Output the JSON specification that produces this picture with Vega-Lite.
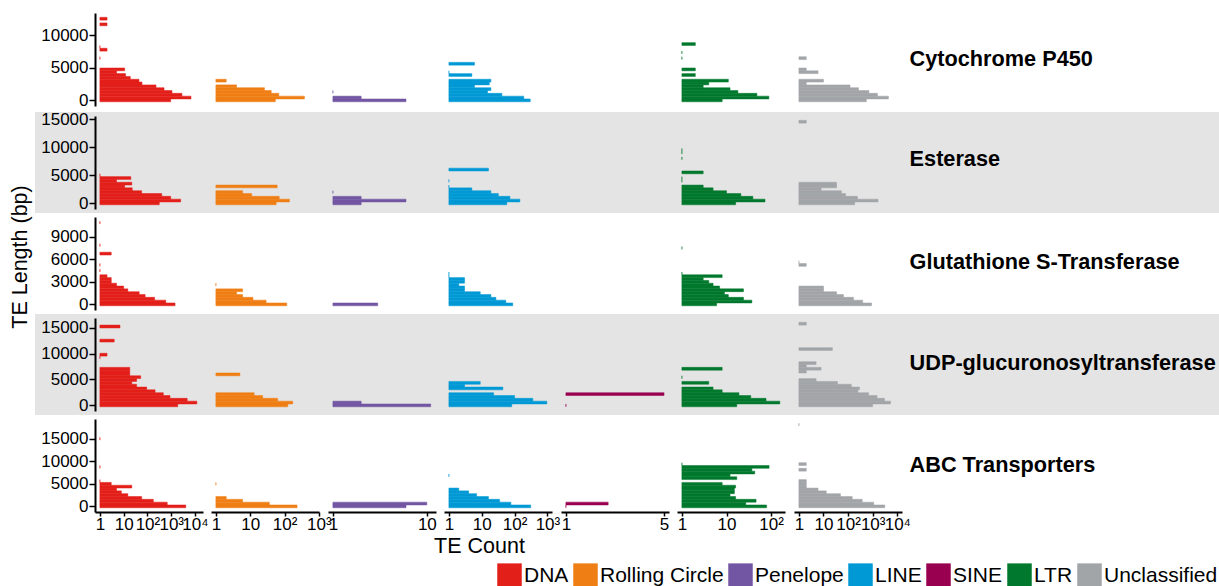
{
"$schema":"https://vega.github.io/schema/vega-lite/v6.json",
"background":"white",
"padding":{"left":0,"top":9,"right":0,"bottom":0},
"spacing":0,
"config":{"view":{"stroke":null},"font":"Liberation Sans","concat":{"spacing":0},
"axis":{"domainColor":"black","domainWidth":2,"tickColor":"black","tickWidth":1.5,"tickSize":6,"labelColor":"black","labelFontSize":17,"labelPadding":1,"labelFont":"Liberation Sans","titleFont":"Liberation Sans","titleFontSize":21.5,"titleFontWeight":"normal","titleColor":"black","grid":false},
"legend":{"orient":"none","legendX":497,"legendY":554,"direction":"horizontal","symbolType":"square","symbolSize":600,"symbolStrokeWidth":0,"symbolOpacity":1,"labelFontSize":21,"labelFont":"Liberation Sans","labelColor":"black","labelOffset":2,"columnPadding":4,"labelLimit":0,"padding":0}},
"data":{"values":[
{"g":"P","c":"DNA","lo":-217,"hi":217,"n":950},{"g":"P","c":"DNA","lo":217,"hi":650,"n":6800},{"g":"P","c":"DNA","lo":650,"hi":1083,"n":2830},{"g":"P","c":"DNA","lo":1083,"hi":1516,"n":1080},{"g":"P","c":"DNA","lo":1516,"hi":1949,"n":500},{"g":"P","c":"DNA","lo":1949,"hi":2382,"n":230},{"g":"P","c":"DNA","lo":2382,"hi":2815,"n":59},{"g":"P","c":"DNA","lo":2815,"hi":3248,"n":44},{"g":"P","c":"DNA","lo":3248,"hi":3681,"n":19},{"g":"P","c":"DNA","lo":3681,"hi":4114,"n":12},{"g":"P","c":"DNA","lo":4114,"hi":4547,"n":5},{"g":"P","c":"DNA","lo":4547,"hi":4980,"n":11},{"g":"P","c":"DNA","lo":6279,"hi":6712,"n":1},{"g":"P","c":"DNA","lo":7578,"hi":8011,"n":2},{"g":"P","c":"DNA","lo":8011,"hi":8444,"n":1},{"g":"P","c":"DNA","lo":11475,"hi":11908,"n":2},{"g":"P","c":"DNA","lo":12341,"hi":12774,"n":2},
{"g":"P","c":"Rolling Circle","lo":-217,"hi":217,"n":54},{"g":"P","c":"Rolling Circle","lo":217,"hi":650,"n":380},{"g":"P","c":"Rolling Circle","lo":650,"hi":1083,"n":68},{"g":"P","c":"Rolling Circle","lo":1083,"hi":1516,"n":41},{"g":"P","c":"Rolling Circle","lo":1516,"hi":1949,"n":26},{"g":"P","c":"Rolling Circle","lo":1949,"hi":2382,"n":4},{"g":"P","c":"Rolling Circle","lo":2815,"hi":3248,"n":2},
{"g":"P","c":"Penelope","lo":-217,"hi":217,"n":6},{"g":"P","c":"Penelope","lo":217,"hi":650,"n":2},{"g":"P","c":"Penelope","lo":1083,"hi":1516,"n":1},
{"g":"P","c":"LINE","lo":-217,"hi":217,"n":300},{"g":"P","c":"LINE","lo":217,"hi":650,"n":190},{"g":"P","c":"LINE","lo":650,"hi":1083,"n":41},{"g":"P","c":"LINE","lo":1083,"hi":1516,"n":15},{"g":"P","c":"LINE","lo":1516,"hi":1949,"n":19},{"g":"P","c":"LINE","lo":1949,"hi":2382,"n":6},{"g":"P","c":"LINE","lo":2382,"hi":2815,"n":17},{"g":"P","c":"LINE","lo":2815,"hi":3248,"n":19},{"g":"P","c":"LINE","lo":3681,"hi":4114,"n":5},{"g":"P","c":"LINE","lo":4114,"hi":4547,"n":1},{"g":"P","c":"LINE","lo":5413,"hi":5846,"n":6},
{"g":"P","c":"LTR","lo":-217,"hi":217,"n":8},{"g":"P","c":"LTR","lo":217,"hi":650,"n":89},{"g":"P","c":"LTR","lo":650,"hi":1083,"n":48},{"g":"P","c":"LTR","lo":1083,"hi":1516,"n":18},{"g":"P","c":"LTR","lo":1516,"hi":1949,"n":12},{"g":"P","c":"LTR","lo":1949,"hi":2382,"n":3},{"g":"P","c":"LTR","lo":2382,"hi":2815,"n":4},{"g":"P","c":"LTR","lo":2815,"hi":3248,"n":11},{"g":"P","c":"LTR","lo":3681,"hi":4114,"n":2},{"g":"P","c":"LTR","lo":4547,"hi":4980,"n":2},{"g":"P","c":"LTR","lo":6279,"hi":6712,"n":1},{"g":"P","c":"LTR","lo":7145,"hi":7578,"n":1},{"g":"P","c":"LTR","lo":8444,"hi":8877,"n":2},
{"g":"P","c":"Unclassified","lo":-217,"hi":217,"n":550},{"g":"P","c":"Unclassified","lo":217,"hi":650,"n":4360},{"g":"P","c":"Unclassified","lo":650,"hi":1083,"n":1560},{"g":"P","c":"Unclassified","lo":1083,"hi":1516,"n":700},{"g":"P","c":"Unclassified","lo":1516,"hi":1949,"n":265},{"g":"P","c":"Unclassified","lo":1949,"hi":2382,"n":120},{"g":"P","c":"Unclassified","lo":2382,"hi":2815,"n":2},{"g":"P","c":"Unclassified","lo":2815,"hi":3248,"n":10},{"g":"P","c":"Unclassified","lo":4114,"hi":4547,"n":6},{"g":"P","c":"Unclassified","lo":4547,"hi":4980,"n":2},{"g":"P","c":"Unclassified","lo":6279,"hi":6712,"n":2},
{"g":"E","c":"DNA","lo":-252,"hi":252,"n":315},{"g":"E","c":"DNA","lo":252,"hi":755,"n":2500},{"g":"E","c":"DNA","lo":755,"hi":1258,"n":950},{"g":"E","c":"DNA","lo":1258,"hi":1761,"n":400},{"g":"E","c":"DNA","lo":1761,"hi":2264,"n":57},{"g":"E","c":"DNA","lo":2264,"hi":2767,"n":23},{"g":"E","c":"DNA","lo":2767,"hi":3270,"n":11},{"g":"E","c":"DNA","lo":3270,"hi":3773,"n":22},{"g":"E","c":"DNA","lo":3773,"hi":4276,"n":5},{"g":"E","c":"DNA","lo":4276,"hi":4779,"n":20},{"g":"E","c":"DNA","lo":4779,"hi":5282,"n":1},
{"g":"E","c":"Rolling Circle","lo":-252,"hi":252,"n":57},{"g":"E","c":"Rolling Circle","lo":252,"hi":755,"n":139},{"g":"E","c":"Rolling Circle","lo":755,"hi":1258,"n":70},{"g":"E","c":"Rolling Circle","lo":1258,"hi":1761,"n":11},{"g":"E","c":"Rolling Circle","lo":1761,"hi":2264,"n":6},{"g":"E","c":"Rolling Circle","lo":2767,"hi":3270,"n":61},
{"g":"E","c":"Penelope","lo":-252,"hi":252,"n":2},{"g":"E","c":"Penelope","lo":252,"hi":755,"n":6},{"g":"E","c":"Penelope","lo":755,"hi":1258,"n":2},{"g":"E","c":"Penelope","lo":1761,"hi":2264,"n":1},
{"g":"E","c":"LINE","lo":-252,"hi":252,"n":58},{"g":"E","c":"LINE","lo":252,"hi":755,"n":145},{"g":"E","c":"LINE","lo":755,"hi":1258,"n":72},{"g":"E","c":"LINE","lo":1258,"hi":1761,"n":32},{"g":"E","c":"LINE","lo":1761,"hi":2264,"n":19},{"g":"E","c":"LINE","lo":2264,"hi":2767,"n":5},{"g":"E","c":"LINE","lo":2767,"hi":3270,"n":1},{"g":"E","c":"LINE","lo":3773,"hi":4276,"n":1},{"g":"E","c":"LINE","lo":5785,"hi":6288,"n":16},
{"g":"E","c":"LTR","lo":-252,"hi":252,"n":16},{"g":"E","c":"LTR","lo":252,"hi":755,"n":73},{"g":"E","c":"LTR","lo":755,"hi":1258,"n":39},{"g":"E","c":"LTR","lo":1258,"hi":1761,"n":21},{"g":"E","c":"LTR","lo":1761,"hi":2264,"n":10},{"g":"E","c":"LTR","lo":2264,"hi":2767,"n":5},{"g":"E","c":"LTR","lo":2767,"hi":3270,"n":3},{"g":"E","c":"LTR","lo":3773,"hi":4276,"n":1},{"g":"E","c":"LTR","lo":4276,"hi":4779,"n":1},{"g":"E","c":"LTR","lo":5282,"hi":5785,"n":3},{"g":"E","c":"LTR","lo":7797,"hi":8300,"n":1},{"g":"E","c":"LTR","lo":8803,"hi":9306,"n":1},{"g":"E","c":"LTR","lo":9306,"hi":9809,"n":1},
{"g":"E","c":"Unclassified","lo":-252,"hi":252,"n":185},{"g":"E","c":"Unclassified","lo":252,"hi":755,"n":1650},{"g":"E","c":"Unclassified","lo":755,"hi":1258,"n":240},{"g":"E","c":"Unclassified","lo":1258,"hi":1761,"n":79},{"g":"E","c":"Unclassified","lo":1761,"hi":2264,"n":53},{"g":"E","c":"Unclassified","lo":2264,"hi":2767,"n":8},{"g":"E","c":"Unclassified","lo":2767,"hi":3270,"n":34},{"g":"E","c":"Unclassified","lo":3270,"hi":3773,"n":34},{"g":"E","c":"Unclassified","lo":14335,"hi":14838,"n":2},
{"g":"G","c":"DNA","lo":-188,"hi":188,"n":1450},{"g":"G","c":"DNA","lo":188,"hi":564,"n":590},{"g":"G","c":"DNA","lo":564,"hi":940,"n":200},{"g":"G","c":"DNA","lo":940,"hi":1316,"n":80},{"g":"G","c":"DNA","lo":1316,"hi":1692,"n":45},{"g":"G","c":"DNA","lo":1692,"hi":2068,"n":15},{"g":"G","c":"DNA","lo":2068,"hi":2444,"n":10},{"g":"G","c":"DNA","lo":2444,"hi":2820,"n":5},{"g":"G","c":"DNA","lo":2820,"hi":3196,"n":3},{"g":"G","c":"DNA","lo":3196,"hi":3572,"n":3},{"g":"G","c":"DNA","lo":3572,"hi":3948,"n":2},{"g":"G","c":"DNA","lo":4324,"hi":4700,"n":1},{"g":"G","c":"DNA","lo":5076,"hi":5452,"n":1},{"g":"G","c":"DNA","lo":6580,"hi":6956,"n":3},{"g":"G","c":"DNA","lo":7708,"hi":8084,"n":1},{"g":"G","c":"DNA","lo":10716,"hi":11092,"n":1},
{"g":"G","c":"Rolling Circle","lo":-188,"hi":188,"n":116},{"g":"G","c":"Rolling Circle","lo":188,"hi":564,"n":29},{"g":"G","c":"Rolling Circle","lo":564,"hi":940,"n":12},{"g":"G","c":"Rolling Circle","lo":940,"hi":1316,"n":6},{"g":"G","c":"Rolling Circle","lo":1316,"hi":1692,"n":4},{"g":"G","c":"Rolling Circle","lo":1692,"hi":2068,"n":6},{"g":"G","c":"Rolling Circle","lo":2444,"hi":2820,"n":1},
{"g":"G","c":"Penelope","lo":-188,"hi":188,"n":3},
{"g":"G","c":"LINE","lo":-188,"hi":188,"n":88},{"g":"G","c":"LINE","lo":188,"hi":564,"n":54},{"g":"G","c":"LINE","lo":564,"hi":940,"n":27},{"g":"G","c":"LINE","lo":940,"hi":1316,"n":19},{"g":"G","c":"LINE","lo":1316,"hi":1692,"n":9},{"g":"G","c":"LINE","lo":1692,"hi":2068,"n":3},{"g":"G","c":"LINE","lo":2068,"hi":2444,"n":3},{"g":"G","c":"LINE","lo":2444,"hi":2820,"n":2},{"g":"G","c":"LINE","lo":2820,"hi":3196,"n":3},{"g":"G","c":"LINE","lo":3196,"hi":3572,"n":3},{"g":"G","c":"LINE","lo":3572,"hi":3948,"n":1},{"g":"G","c":"LINE","lo":3948,"hi":4324,"n":1},
{"g":"G","c":"LTR","lo":-188,"hi":188,"n":6},{"g":"G","c":"LTR","lo":188,"hi":564,"n":37},{"g":"G","c":"LTR","lo":564,"hi":940,"n":24},{"g":"G","c":"LTR","lo":940,"hi":1316,"n":11},{"g":"G","c":"LTR","lo":1316,"hi":1692,"n":9},{"g":"G","c":"LTR","lo":1692,"hi":2068,"n":24},{"g":"G","c":"LTR","lo":2068,"hi":2444,"n":7},{"g":"G","c":"LTR","lo":2444,"hi":2820,"n":5},{"g":"G","c":"LTR","lo":2820,"hi":3196,"n":4},{"g":"G","c":"LTR","lo":3196,"hi":3572,"n":3},{"g":"G","c":"LTR","lo":3572,"hi":3948,"n":8},{"g":"G","c":"LTR","lo":3948,"hi":4324,"n":1},{"g":"G","c":"LTR","lo":7332,"hi":7708,"n":1},
{"g":"G","c":"Unclassified","lo":-188,"hi":188,"n":900},{"g":"G","c":"Unclassified","lo":188,"hi":564,"n":390},{"g":"G","c":"Unclassified","lo":564,"hi":940,"n":165},{"g":"G","c":"Unclassified","lo":940,"hi":1316,"n":65},{"g":"G","c":"Unclassified","lo":1316,"hi":1692,"n":34},{"g":"G","c":"Unclassified","lo":1692,"hi":2068,"n":10},{"g":"G","c":"Unclassified","lo":2068,"hi":2444,"n":10},{"g":"G","c":"Unclassified","lo":5076,"hi":5452,"n":2},{"g":"G","c":"Unclassified","lo":5452,"hi":5828,"n":1},
{"g":"U","c":"DNA","lo":-272,"hi":272,"n":1880},{"g":"U","c":"DNA","lo":272,"hi":815,"n":12000},{"g":"U","c":"DNA","lo":815,"hi":1358,"n":4700},{"g":"U","c":"DNA","lo":1358,"hi":1901,"n":890},{"g":"U","c":"DNA","lo":1901,"hi":2444,"n":465},{"g":"U","c":"DNA","lo":2444,"hi":2987,"n":210},{"g":"U","c":"DNA","lo":2987,"hi":3530,"n":93},{"g":"U","c":"DNA","lo":3530,"hi":4073,"n":35},{"g":"U","c":"DNA","lo":4073,"hi":4616,"n":22},{"g":"U","c":"DNA","lo":4616,"hi":5159,"n":35},{"g":"U","c":"DNA","lo":5159,"hi":5702,"n":52},{"g":"U","c":"DNA","lo":5702,"hi":6245,"n":18},{"g":"U","c":"DNA","lo":6245,"hi":6788,"n":18},{"g":"U","c":"DNA","lo":6788,"hi":7331,"n":18},{"g":"U","c":"DNA","lo":8960,"hi":9503,"n":1},{"g":"U","c":"DNA","lo":9503,"hi":10046,"n":2},{"g":"U","c":"DNA","lo":12218,"hi":12761,"n":4},{"g":"U","c":"DNA","lo":14933,"hi":15476,"n":7},
{"g":"U","c":"Rolling Circle","lo":-272,"hi":272,"n":124},{"g":"U","c":"Rolling Circle","lo":272,"hi":815,"n":173},{"g":"U","c":"Rolling Circle","lo":815,"hi":1358,"n":63},{"g":"U","c":"Rolling Circle","lo":1358,"hi":1901,"n":23},{"g":"U","c":"Rolling Circle","lo":1901,"hi":2444,"n":13},{"g":"U","c":"Rolling Circle","lo":5702,"hi":6245,"n":5},
{"g":"U","c":"Penelope","lo":-272,"hi":272,"n":11},{"g":"U","c":"Penelope","lo":272,"hi":815,"n":2},
{"g":"U","c":"LINE","lo":-272,"hi":272,"n":82},{"g":"U","c":"LINE","lo":272,"hi":815,"n":960},{"g":"U","c":"LINE","lo":815,"hi":1358,"n":360},{"g":"U","c":"LINE","lo":1358,"hi":1901,"n":100},{"g":"U","c":"LINE","lo":1901,"hi":2444,"n":23},{"g":"U","c":"LINE","lo":2987,"hi":3530,"n":44},{"g":"U","c":"LINE","lo":3530,"hi":4073,"n":3},{"g":"U","c":"LINE","lo":4073,"hi":4616,"n":9},
{"g":"U","c":"SINE","lo":-272,"hi":272,"n":1},{"g":"U","c":"SINE","lo":1901,"hi":2444,"n":5},
{"g":"U","c":"LTR","lo":-272,"hi":272,"n":17},{"g":"U","c":"LTR","lo":272,"hi":815,"n":157},{"g":"U","c":"LTR","lo":815,"hi":1358,"n":77},{"g":"U","c":"LTR","lo":1358,"hi":1901,"n":35},{"g":"U","c":"LTR","lo":1901,"hi":2444,"n":19},{"g":"U","c":"LTR","lo":2444,"hi":2987,"n":8},{"g":"U","c":"LTR","lo":2987,"hi":3530,"n":5},{"g":"U","c":"LTR","lo":4073,"hi":4616,"n":4},{"g":"U","c":"LTR","lo":5159,"hi":5702,"n":1},{"g":"U","c":"LTR","lo":6788,"hi":7331,"n":8},
{"g":"U","c":"Unclassified","lo":-272,"hi":272,"n":990},{"g":"U","c":"Unclassified","lo":272,"hi":815,"n":5300},{"g":"U","c":"Unclassified","lo":815,"hi":1358,"n":3000},{"g":"U","c":"Unclassified","lo":1358,"hi":1901,"n":1500},{"g":"U","c":"Unclassified","lo":1901,"hi":2444,"n":680},{"g":"U","c":"Unclassified","lo":2444,"hi":2987,"n":250},{"g":"U","c":"Unclassified","lo":2987,"hi":3530,"n":290},{"g":"U","c":"Unclassified","lo":3530,"hi":4073,"n":135},{"g":"U","c":"Unclassified","lo":4073,"hi":4616,"n":37},{"g":"U","c":"Unclassified","lo":4616,"hi":5159,"n":5},{"g":"U","c":"Unclassified","lo":6245,"hi":6788,"n":2},{"g":"U","c":"Unclassified","lo":6788,"hi":7331,"n":8},{"g":"U","c":"Unclassified","lo":7331,"hi":7874,"n":2},{"g":"U","c":"Unclassified","lo":7874,"hi":8417,"n":5},{"g":"U","c":"Unclassified","lo":10589,"hi":11132,"n":23},{"g":"U","c":"Unclassified","lo":15476,"hi":16019,"n":2},
{"g":"A","c":"DNA","lo":-312,"hi":312,"n":4100},{"g":"A","c":"DNA","lo":312,"hi":936,"n":680},{"g":"A","c":"DNA","lo":936,"hi":1560,"n":177},{"g":"A","c":"DNA","lo":1560,"hi":2184,"n":57},{"g":"A","c":"DNA","lo":2184,"hi":2808,"n":15},{"g":"A","c":"DNA","lo":2808,"hi":3432,"n":8},{"g":"A","c":"DNA","lo":3432,"hi":4056,"n":5},{"g":"A","c":"DNA","lo":4056,"hi":4680,"n":22},{"g":"A","c":"DNA","lo":4680,"hi":5304,"n":3},{"g":"A","c":"DNA","lo":5304,"hi":5928,"n":1},{"g":"A","c":"DNA","lo":8424,"hi":9048,"n":1},{"g":"A","c":"DNA","lo":14664,"hi":15288,"n":1},
{"g":"A","c":"Rolling Circle","lo":-312,"hi":312,"n":232},{"g":"A","c":"Rolling Circle","lo":312,"hi":936,"n":36},{"g":"A","c":"Rolling Circle","lo":936,"hi":1560,"n":6},{"g":"A","c":"Rolling Circle","lo":1560,"hi":2184,"n":2},{"g":"A","c":"Rolling Circle","lo":4680,"hi":5304,"n":1},
{"g":"A","c":"Penelope","lo":-312,"hi":312,"n":6},{"g":"A","c":"Penelope","lo":312,"hi":936,"n":10},
{"g":"A","c":"LINE","lo":-312,"hi":312,"n":310},{"g":"A","c":"LINE","lo":312,"hi":936,"n":77},{"g":"A","c":"LINE","lo":936,"hi":1560,"n":35},{"g":"A","c":"LINE","lo":1560,"hi":2184,"n":16},{"g":"A","c":"LINE","lo":2184,"hi":2808,"n":7},{"g":"A","c":"LINE","lo":2808,"hi":3432,"n":4},{"g":"A","c":"LINE","lo":3432,"hi":4056,"n":2},{"g":"A","c":"LINE","lo":6552,"hi":7176,"n":1},
{"g":"A","c":"SINE","lo":-312,"hi":312,"n":1},{"g":"A","c":"SINE","lo":312,"hi":936,"n":2},
{"g":"A","c":"LTR","lo":-312,"hi":312,"n":79},{"g":"A","c":"LTR","lo":312,"hi":936,"n":27},{"g":"A","c":"LTR","lo":936,"hi":1560,"n":46},{"g":"A","c":"LTR","lo":1560,"hi":2184,"n":16},{"g":"A","c":"LTR","lo":2184,"hi":2808,"n":12},{"g":"A","c":"LTR","lo":2808,"hi":3432,"n":15},{"g":"A","c":"LTR","lo":3432,"hi":4056,"n":15},{"g":"A","c":"LTR","lo":4056,"hi":4680,"n":16},{"g":"A","c":"LTR","lo":4680,"hi":5304,"n":8},{"g":"A","c":"LTR","lo":5928,"hi":6552,"n":17},{"g":"A","c":"LTR","lo":6552,"hi":7176,"n":12},{"g":"A","c":"LTR","lo":7176,"hi":7800,"n":43},{"g":"A","c":"LTR","lo":7800,"hi":8424,"n":37},{"g":"A","c":"LTR","lo":8424,"hi":9048,"n":90},{"g":"A","c":"LTR","lo":9048,"hi":9672,"n":1},
{"g":"A","c":"Unclassified","lo":-312,"hi":312,"n":3100},{"g":"A","c":"Unclassified","lo":312,"hi":936,"n":1100},{"g":"A","c":"Unclassified","lo":936,"hi":1560,"n":375},{"g":"A","c":"Unclassified","lo":1560,"hi":2184,"n":147},{"g":"A","c":"Unclassified","lo":2184,"hi":2808,"n":49},{"g":"A","c":"Unclassified","lo":2808,"hi":3432,"n":13},{"g":"A","c":"Unclassified","lo":3432,"hi":4056,"n":6},{"g":"A","c":"Unclassified","lo":4056,"hi":4680,"n":2},{"g":"A","c":"Unclassified","lo":4680,"hi":5304,"n":2},{"g":"A","c":"Unclassified","lo":5304,"hi":5928,"n":2},{"g":"A","c":"Unclassified","lo":7800,"hi":8424,"n":2},{"g":"A","c":"Unclassified","lo":9048,"hi":9672,"n":2},{"g":"A","c":"Unclassified","lo":17784,"hi":18408,"n":1}
]},
"hconcat":[
{"width":35,"height":501,"data":{"values":[{"t":"TE Length (bp)"}]},"mark":{"type":"text","angle":270,"align":"center","baseline":"middle","fontSize":21.5,"font":"Liberation Sans","color":"black"},"encoding":{"text":{"field":"t"},"x":{"value":21},"y":{"value":248}}},
{"spacing":0,"vconcat":[
{"spacing":0,"bounds":"flush","hconcat":[
{"width":176,"height":101,"transform":[{"filter":"datum.g=='P'&&datum.c=='DNA'"}],"mark":{"type":"rect","stroke":"#E31F1A","strokeWidth":0.5},"encoding":{"x":{"field":"n","type":"quantitative","scale":{"type":"log","domain":[0.622,21750],"range":[60,168],"nice":false},"axis":null},"x2":{"datum":1},"y":{"field":"lo","type":"quantitative","scale":{"domain":[-867,13437],"range":[97,4],"nice":false,"zero":false},"axis":{"orient":"left","offset":-60,"values":[0,5000,10000],"format":"d","title":null}},"y2":{"field":"hi"},"color":{"field":"c","type":"nominal","title":null,"scale":{"domain":["DNA","Rolling Circle","Penelope","LINE","SINE","LTR","Unclassified"],"range":["#E31F1A","#EF7E14","#7356A3","#0099D5","#990050","#00782D","#A2A5A8"]}}}},
{"width":117,"height":101,"transform":[{"filter":"datum.g=='P'&&datum.c=='Rolling Circle'"}],"mark":{"type":"rect","stroke":"#EF7E14","strokeWidth":0.5},"encoding":{"x":{"field":"n","type":"quantitative","scale":{"type":"log","domain":[0.7203,1010],"range":[0,108],"nice":false},"axis":null},"x2":{"datum":1},"y":{"field":"lo","type":"quantitative","scale":{"domain":[-867,13437],"range":[97,4],"nice":false,"zero":false},"axis":null},"y2":{"field":"hi"},"color":{"field":"c","type":"nominal","title":null,"scale":{"domain":["DNA","Rolling Circle","Penelope","LINE","SINE","LTR","Unclassified"],"range":["#E31F1A","#EF7E14","#7356A3","#0099D5","#990050","#00782D","#A2A5A8"]}}}},
{"width":116,"height":101,"transform":[{"filter":"datum.g=='P'&&datum.c=='Penelope'"}],"mark":{"type":"rect","stroke":"#7356A3","strokeWidth":0.5},"encoding":{"x":{"field":"n","type":"quantitative","scale":{"type":"log","domain":[0.8869,12.52],"range":[0,108],"nice":false},"axis":null},"x2":{"datum":1},"y":{"field":"lo","type":"quantitative","scale":{"domain":[-867,13437],"range":[97,4],"nice":false,"zero":false},"axis":null},"y2":{"field":"hi"},"color":{"field":"c","type":"nominal","title":null,"scale":{"domain":["DNA","Rolling Circle","Penelope","LINE","SINE","LTR","Unclassified"],"range":["#E31F1A","#EF7E14","#7356A3","#0099D5","#990050","#00782D","#A2A5A8"]}}}},
{"width":117,"height":101,"transform":[{"filter":"datum.g=='P'&&datum.c=='LINE'"}],"mark":{"type":"rect","stroke":"#0099D5","strokeWidth":0.5},"encoding":{"x":{"field":"n","type":"quantitative","scale":{"type":"log","domain":[0.7091,1379],"range":[0,108],"nice":false},"axis":null},"x2":{"datum":1},"y":{"field":"lo","type":"quantitative","scale":{"domain":[-867,13437],"range":[97,4],"nice":false,"zero":false},"axis":null},"y2":{"field":"hi"},"color":{"field":"c","type":"nominal","title":null,"scale":{"domain":["DNA","Rolling Circle","Penelope","LINE","SINE","LTR","Unclassified"],"range":["#E31F1A","#EF7E14","#7356A3","#0099D5","#990050","#00782D","#A2A5A8"]}}}},
{"width":116,"height":101,"transform":[{"filter":"datum.g=='P'&&datum.c=='SINE'"}],"mark":{"type":"rect","stroke":"#990050","strokeWidth":0.5},"encoding":{"x":{"field":"n","type":"quantitative","scale":{"type":"log","domain":[0.9229,5.424],"range":[0,108],"nice":false},"axis":null},"x2":{"datum":1},"y":{"field":"lo","type":"quantitative","scale":{"domain":[-867,13437],"range":[97,4],"nice":false,"zero":false},"axis":null},"y2":{"field":"hi"},"color":{"field":"c","type":"nominal","title":null,"scale":{"domain":["DNA","Rolling Circle","Penelope","LINE","SINE","LTR","Unclassified"],"range":["#E31F1A","#EF7E14","#7356A3","#0099D5","#990050","#00782D","#A2A5A8"]}}}},
{"width":117,"height":101,"transform":[{"filter":"datum.g=='P'&&datum.c=='LTR'"}],"mark":{"type":"rect","stroke":"#00782D","strokeWidth":0.5},"encoding":{"x":{"field":"n","type":"quantitative","scale":{"type":"log","domain":[0.7764,204.9],"range":[0,108],"nice":false},"axis":null},"x2":{"datum":1},"y":{"field":"lo","type":"quantitative","scale":{"domain":[-867,13437],"range":[97,4],"nice":false,"zero":false},"axis":null},"y2":{"field":"hi"},"color":{"field":"c","type":"nominal","title":null,"scale":{"domain":["DNA","Rolling Circle","Penelope","LINE","SINE","LTR","Unclassified"],"range":["#E31F1A","#EF7E14","#7356A3","#0099D5","#990050","#00782D","#A2A5A8"]}}}},
{"width":108,"height":101,"transform":[{"filter":"datum.g=='P'&&datum.c=='Unclassified'"}],"mark":{"type":"rect","stroke":"#A2A5A8","strokeWidth":0.5},"encoding":{"x":{"field":"n","type":"quantitative","scale":{"type":"log","domain":[0.6322,15524],"range":[0,108],"nice":false},"axis":null},"x2":{"datum":1},"y":{"field":"lo","type":"quantitative","scale":{"domain":[-867,13437],"range":[97,4],"nice":false,"zero":false},"axis":null},"y2":{"field":"hi"},"color":{"field":"c","type":"nominal","title":null,"scale":{"domain":["DNA","Rolling Circle","Penelope","LINE","SINE","LTR","Unclassified"],"range":["#E31F1A","#EF7E14","#7356A3","#0099D5","#990050","#00782D","#A2A5A8"]}}}},
{"width":317,"height":101,"data":{"values":[{"label":"Cytochrome P450"}]},"mark":{"type":"text","align":"left","baseline":"middle","fontSize":21.7,"fontWeight":"bold","font":"Liberation Sans","color":"black"},"encoding":{"text":{"field":"label"},"x":{"value":7.6},"y":{"value":49.5}}}
]},
{"spacing":0,"bounds":"flush","hconcat":[
{"width":176,"height":101,"view":{"fill":"#E4E4E4"},"transform":[{"filter":"datum.g=='E'&&datum.c=='DNA'"}],"mark":{"type":"rect","stroke":"#E31F1A","strokeWidth":0.5},"encoding":{"x":{"field":"n","type":"quantitative","scale":{"type":"log","domain":[0.622,21750],"range":[60,168],"nice":false},"axis":null},"x2":{"datum":1},"y":{"field":"lo","type":"quantitative","scale":{"domain":[-1007,15607],"range":[97,4],"nice":false,"zero":false},"axis":{"orient":"left","offset":-60,"values":[0,5000,10000,15000],"format":"d","title":null}},"y2":{"field":"hi"},"color":{"field":"c","type":"nominal","title":null,"scale":{"domain":["DNA","Rolling Circle","Penelope","LINE","SINE","LTR","Unclassified"],"range":["#E31F1A","#EF7E14","#7356A3","#0099D5","#990050","#00782D","#A2A5A8"]}}}},
{"width":117,"height":101,"view":{"fill":"#E4E4E4"},"transform":[{"filter":"datum.g=='E'&&datum.c=='Rolling Circle'"}],"mark":{"type":"rect","stroke":"#EF7E14","strokeWidth":0.5},"encoding":{"x":{"field":"n","type":"quantitative","scale":{"type":"log","domain":[0.7203,1010],"range":[0,108],"nice":false},"axis":null},"x2":{"datum":1},"y":{"field":"lo","type":"quantitative","scale":{"domain":[-1007,15607],"range":[97,4],"nice":false,"zero":false},"axis":null},"y2":{"field":"hi"},"color":{"field":"c","type":"nominal","title":null,"scale":{"domain":["DNA","Rolling Circle","Penelope","LINE","SINE","LTR","Unclassified"],"range":["#E31F1A","#EF7E14","#7356A3","#0099D5","#990050","#00782D","#A2A5A8"]}}}},
{"width":116,"height":101,"view":{"fill":"#E4E4E4"},"transform":[{"filter":"datum.g=='E'&&datum.c=='Penelope'"}],"mark":{"type":"rect","stroke":"#7356A3","strokeWidth":0.5},"encoding":{"x":{"field":"n","type":"quantitative","scale":{"type":"log","domain":[0.8869,12.52],"range":[0,108],"nice":false},"axis":null},"x2":{"datum":1},"y":{"field":"lo","type":"quantitative","scale":{"domain":[-1007,15607],"range":[97,4],"nice":false,"zero":false},"axis":null},"y2":{"field":"hi"},"color":{"field":"c","type":"nominal","title":null,"scale":{"domain":["DNA","Rolling Circle","Penelope","LINE","SINE","LTR","Unclassified"],"range":["#E31F1A","#EF7E14","#7356A3","#0099D5","#990050","#00782D","#A2A5A8"]}}}},
{"width":117,"height":101,"view":{"fill":"#E4E4E4"},"transform":[{"filter":"datum.g=='E'&&datum.c=='LINE'"}],"mark":{"type":"rect","stroke":"#0099D5","strokeWidth":0.5},"encoding":{"x":{"field":"n","type":"quantitative","scale":{"type":"log","domain":[0.7091,1379],"range":[0,108],"nice":false},"axis":null},"x2":{"datum":1},"y":{"field":"lo","type":"quantitative","scale":{"domain":[-1007,15607],"range":[97,4],"nice":false,"zero":false},"axis":null},"y2":{"field":"hi"},"color":{"field":"c","type":"nominal","title":null,"scale":{"domain":["DNA","Rolling Circle","Penelope","LINE","SINE","LTR","Unclassified"],"range":["#E31F1A","#EF7E14","#7356A3","#0099D5","#990050","#00782D","#A2A5A8"]}}}},
{"width":116,"height":101,"view":{"fill":"#E4E4E4"},"transform":[{"filter":"datum.g=='E'&&datum.c=='SINE'"}],"mark":{"type":"rect","stroke":"#990050","strokeWidth":0.5},"encoding":{"x":{"field":"n","type":"quantitative","scale":{"type":"log","domain":[0.9229,5.424],"range":[0,108],"nice":false},"axis":null},"x2":{"datum":1},"y":{"field":"lo","type":"quantitative","scale":{"domain":[-1007,15607],"range":[97,4],"nice":false,"zero":false},"axis":null},"y2":{"field":"hi"},"color":{"field":"c","type":"nominal","title":null,"scale":{"domain":["DNA","Rolling Circle","Penelope","LINE","SINE","LTR","Unclassified"],"range":["#E31F1A","#EF7E14","#7356A3","#0099D5","#990050","#00782D","#A2A5A8"]}}}},
{"width":117,"height":101,"view":{"fill":"#E4E4E4"},"transform":[{"filter":"datum.g=='E'&&datum.c=='LTR'"}],"mark":{"type":"rect","stroke":"#00782D","strokeWidth":0.5},"encoding":{"x":{"field":"n","type":"quantitative","scale":{"type":"log","domain":[0.7764,204.9],"range":[0,108],"nice":false},"axis":null},"x2":{"datum":1},"y":{"field":"lo","type":"quantitative","scale":{"domain":[-1007,15607],"range":[97,4],"nice":false,"zero":false},"axis":null},"y2":{"field":"hi"},"color":{"field":"c","type":"nominal","title":null,"scale":{"domain":["DNA","Rolling Circle","Penelope","LINE","SINE","LTR","Unclassified"],"range":["#E31F1A","#EF7E14","#7356A3","#0099D5","#990050","#00782D","#A2A5A8"]}}}},
{"width":108,"height":101,"view":{"fill":"#E4E4E4"},"transform":[{"filter":"datum.g=='E'&&datum.c=='Unclassified'"}],"mark":{"type":"rect","stroke":"#A2A5A8","strokeWidth":0.5},"encoding":{"x":{"field":"n","type":"quantitative","scale":{"type":"log","domain":[0.6322,15524],"range":[0,108],"nice":false},"axis":null},"x2":{"datum":1},"y":{"field":"lo","type":"quantitative","scale":{"domain":[-1007,15607],"range":[97,4],"nice":false,"zero":false},"axis":null},"y2":{"field":"hi"},"color":{"field":"c","type":"nominal","title":null,"scale":{"domain":["DNA","Rolling Circle","Penelope","LINE","SINE","LTR","Unclassified"],"range":["#E31F1A","#EF7E14","#7356A3","#0099D5","#990050","#00782D","#A2A5A8"]}}}},
{"width":317,"height":101,"view":{"fill":"#E4E4E4"},"data":{"values":[{"label":"Esterase"}]},"mark":{"type":"text","align":"left","baseline":"middle","fontSize":21.7,"fontWeight":"bold","font":"Liberation Sans","color":"black"},"encoding":{"text":{"field":"label"},"x":{"value":7.6},"y":{"value":47}}}
]},
{"spacing":0,"bounds":"flush","hconcat":[
{"width":176,"height":101,"transform":[{"filter":"datum.g=='G'&&datum.c=='DNA'"}],"mark":{"type":"rect","stroke":"#E31F1A","strokeWidth":0.5},"encoding":{"x":{"field":"n","type":"quantitative","scale":{"type":"log","domain":[0.622,21750],"range":[60,168],"nice":false},"axis":null},"x2":{"datum":1},"y":{"field":"lo","type":"quantitative","scale":{"domain":[-752,11652],"range":[97,4],"nice":false,"zero":false},"axis":{"orient":"left","offset":-60,"values":[0,3000,6000,9000],"format":"d","title":null}},"y2":{"field":"hi"},"color":{"field":"c","type":"nominal","title":null,"scale":{"domain":["DNA","Rolling Circle","Penelope","LINE","SINE","LTR","Unclassified"],"range":["#E31F1A","#EF7E14","#7356A3","#0099D5","#990050","#00782D","#A2A5A8"]}}}},
{"width":117,"height":101,"transform":[{"filter":"datum.g=='G'&&datum.c=='Rolling Circle'"}],"mark":{"type":"rect","stroke":"#EF7E14","strokeWidth":0.5},"encoding":{"x":{"field":"n","type":"quantitative","scale":{"type":"log","domain":[0.7203,1010],"range":[0,108],"nice":false},"axis":null},"x2":{"datum":1},"y":{"field":"lo","type":"quantitative","scale":{"domain":[-752,11652],"range":[97,4],"nice":false,"zero":false},"axis":null},"y2":{"field":"hi"},"color":{"field":"c","type":"nominal","title":null,"scale":{"domain":["DNA","Rolling Circle","Penelope","LINE","SINE","LTR","Unclassified"],"range":["#E31F1A","#EF7E14","#7356A3","#0099D5","#990050","#00782D","#A2A5A8"]}}}},
{"width":116,"height":101,"transform":[{"filter":"datum.g=='G'&&datum.c=='Penelope'"}],"mark":{"type":"rect","stroke":"#7356A3","strokeWidth":0.5},"encoding":{"x":{"field":"n","type":"quantitative","scale":{"type":"log","domain":[0.8869,12.52],"range":[0,108],"nice":false},"axis":null},"x2":{"datum":1},"y":{"field":"lo","type":"quantitative","scale":{"domain":[-752,11652],"range":[97,4],"nice":false,"zero":false},"axis":null},"y2":{"field":"hi"},"color":{"field":"c","type":"nominal","title":null,"scale":{"domain":["DNA","Rolling Circle","Penelope","LINE","SINE","LTR","Unclassified"],"range":["#E31F1A","#EF7E14","#7356A3","#0099D5","#990050","#00782D","#A2A5A8"]}}}},
{"width":117,"height":101,"transform":[{"filter":"datum.g=='G'&&datum.c=='LINE'"}],"mark":{"type":"rect","stroke":"#0099D5","strokeWidth":0.5},"encoding":{"x":{"field":"n","type":"quantitative","scale":{"type":"log","domain":[0.7091,1379],"range":[0,108],"nice":false},"axis":null},"x2":{"datum":1},"y":{"field":"lo","type":"quantitative","scale":{"domain":[-752,11652],"range":[97,4],"nice":false,"zero":false},"axis":null},"y2":{"field":"hi"},"color":{"field":"c","type":"nominal","title":null,"scale":{"domain":["DNA","Rolling Circle","Penelope","LINE","SINE","LTR","Unclassified"],"range":["#E31F1A","#EF7E14","#7356A3","#0099D5","#990050","#00782D","#A2A5A8"]}}}},
{"width":116,"height":101,"transform":[{"filter":"datum.g=='G'&&datum.c=='SINE'"}],"mark":{"type":"rect","stroke":"#990050","strokeWidth":0.5},"encoding":{"x":{"field":"n","type":"quantitative","scale":{"type":"log","domain":[0.9229,5.424],"range":[0,108],"nice":false},"axis":null},"x2":{"datum":1},"y":{"field":"lo","type":"quantitative","scale":{"domain":[-752,11652],"range":[97,4],"nice":false,"zero":false},"axis":null},"y2":{"field":"hi"},"color":{"field":"c","type":"nominal","title":null,"scale":{"domain":["DNA","Rolling Circle","Penelope","LINE","SINE","LTR","Unclassified"],"range":["#E31F1A","#EF7E14","#7356A3","#0099D5","#990050","#00782D","#A2A5A8"]}}}},
{"width":117,"height":101,"transform":[{"filter":"datum.g=='G'&&datum.c=='LTR'"}],"mark":{"type":"rect","stroke":"#00782D","strokeWidth":0.5},"encoding":{"x":{"field":"n","type":"quantitative","scale":{"type":"log","domain":[0.7764,204.9],"range":[0,108],"nice":false},"axis":null},"x2":{"datum":1},"y":{"field":"lo","type":"quantitative","scale":{"domain":[-752,11652],"range":[97,4],"nice":false,"zero":false},"axis":null},"y2":{"field":"hi"},"color":{"field":"c","type":"nominal","title":null,"scale":{"domain":["DNA","Rolling Circle","Penelope","LINE","SINE","LTR","Unclassified"],"range":["#E31F1A","#EF7E14","#7356A3","#0099D5","#990050","#00782D","#A2A5A8"]}}}},
{"width":108,"height":101,"transform":[{"filter":"datum.g=='G'&&datum.c=='Unclassified'"}],"mark":{"type":"rect","stroke":"#A2A5A8","strokeWidth":0.5},"encoding":{"x":{"field":"n","type":"quantitative","scale":{"type":"log","domain":[0.6322,15524],"range":[0,108],"nice":false},"axis":null},"x2":{"datum":1},"y":{"field":"lo","type":"quantitative","scale":{"domain":[-752,11652],"range":[97,4],"nice":false,"zero":false},"axis":null},"y2":{"field":"hi"},"color":{"field":"c","type":"nominal","title":null,"scale":{"domain":["DNA","Rolling Circle","Penelope","LINE","SINE","LTR","Unclassified"],"range":["#E31F1A","#EF7E14","#7356A3","#0099D5","#990050","#00782D","#A2A5A8"]}}}},
{"width":317,"height":101,"data":{"values":[{"label":"Glutathione S-Transferase"}]},"mark":{"type":"text","align":"left","baseline":"middle","fontSize":21.7,"fontWeight":"bold","font":"Liberation Sans","color":"black"},"encoding":{"text":{"field":"label"},"x":{"value":7.6},"y":{"value":49}}}
]},
{"spacing":0,"bounds":"flush","hconcat":[
{"width":176,"height":101,"view":{"fill":"#E4E4E4"},"transform":[{"filter":"datum.g=='U'&&datum.c=='DNA'"}],"mark":{"type":"rect","stroke":"#E31F1A","strokeWidth":0.5},"encoding":{"x":{"field":"n","type":"quantitative","scale":{"type":"log","domain":[0.622,21750],"range":[60,168],"nice":false},"axis":null},"x2":{"datum":1},"y":{"field":"lo","type":"quantitative","scale":{"domain":[-1087,16847],"range":[97,4],"nice":false,"zero":false},"axis":{"orient":"left","offset":-60,"values":[0,5000,10000,15000],"format":"d","title":null}},"y2":{"field":"hi"},"color":{"field":"c","type":"nominal","title":null,"scale":{"domain":["DNA","Rolling Circle","Penelope","LINE","SINE","LTR","Unclassified"],"range":["#E31F1A","#EF7E14","#7356A3","#0099D5","#990050","#00782D","#A2A5A8"]}}}},
{"width":117,"height":101,"view":{"fill":"#E4E4E4"},"transform":[{"filter":"datum.g=='U'&&datum.c=='Rolling Circle'"}],"mark":{"type":"rect","stroke":"#EF7E14","strokeWidth":0.5},"encoding":{"x":{"field":"n","type":"quantitative","scale":{"type":"log","domain":[0.7203,1010],"range":[0,108],"nice":false},"axis":null},"x2":{"datum":1},"y":{"field":"lo","type":"quantitative","scale":{"domain":[-1087,16847],"range":[97,4],"nice":false,"zero":false},"axis":null},"y2":{"field":"hi"},"color":{"field":"c","type":"nominal","title":null,"scale":{"domain":["DNA","Rolling Circle","Penelope","LINE","SINE","LTR","Unclassified"],"range":["#E31F1A","#EF7E14","#7356A3","#0099D5","#990050","#00782D","#A2A5A8"]}}}},
{"width":116,"height":101,"view":{"fill":"#E4E4E4"},"transform":[{"filter":"datum.g=='U'&&datum.c=='Penelope'"}],"mark":{"type":"rect","stroke":"#7356A3","strokeWidth":0.5},"encoding":{"x":{"field":"n","type":"quantitative","scale":{"type":"log","domain":[0.8869,12.52],"range":[0,108],"nice":false},"axis":null},"x2":{"datum":1},"y":{"field":"lo","type":"quantitative","scale":{"domain":[-1087,16847],"range":[97,4],"nice":false,"zero":false},"axis":null},"y2":{"field":"hi"},"color":{"field":"c","type":"nominal","title":null,"scale":{"domain":["DNA","Rolling Circle","Penelope","LINE","SINE","LTR","Unclassified"],"range":["#E31F1A","#EF7E14","#7356A3","#0099D5","#990050","#00782D","#A2A5A8"]}}}},
{"width":117,"height":101,"view":{"fill":"#E4E4E4"},"transform":[{"filter":"datum.g=='U'&&datum.c=='LINE'"}],"mark":{"type":"rect","stroke":"#0099D5","strokeWidth":0.5},"encoding":{"x":{"field":"n","type":"quantitative","scale":{"type":"log","domain":[0.7091,1379],"range":[0,108],"nice":false},"axis":null},"x2":{"datum":1},"y":{"field":"lo","type":"quantitative","scale":{"domain":[-1087,16847],"range":[97,4],"nice":false,"zero":false},"axis":null},"y2":{"field":"hi"},"color":{"field":"c","type":"nominal","title":null,"scale":{"domain":["DNA","Rolling Circle","Penelope","LINE","SINE","LTR","Unclassified"],"range":["#E31F1A","#EF7E14","#7356A3","#0099D5","#990050","#00782D","#A2A5A8"]}}}},
{"width":116,"height":101,"view":{"fill":"#E4E4E4"},"transform":[{"filter":"datum.g=='U'&&datum.c=='SINE'"}],"mark":{"type":"rect","stroke":"#990050","strokeWidth":0.5},"encoding":{"x":{"field":"n","type":"quantitative","scale":{"type":"log","domain":[0.9229,5.424],"range":[0,108],"nice":false},"axis":null},"x2":{"datum":1},"y":{"field":"lo","type":"quantitative","scale":{"domain":[-1087,16847],"range":[97,4],"nice":false,"zero":false},"axis":null},"y2":{"field":"hi"},"color":{"field":"c","type":"nominal","title":null,"scale":{"domain":["DNA","Rolling Circle","Penelope","LINE","SINE","LTR","Unclassified"],"range":["#E31F1A","#EF7E14","#7356A3","#0099D5","#990050","#00782D","#A2A5A8"]}}}},
{"width":117,"height":101,"view":{"fill":"#E4E4E4"},"transform":[{"filter":"datum.g=='U'&&datum.c=='LTR'"}],"mark":{"type":"rect","stroke":"#00782D","strokeWidth":0.5},"encoding":{"x":{"field":"n","type":"quantitative","scale":{"type":"log","domain":[0.7764,204.9],"range":[0,108],"nice":false},"axis":null},"x2":{"datum":1},"y":{"field":"lo","type":"quantitative","scale":{"domain":[-1087,16847],"range":[97,4],"nice":false,"zero":false},"axis":null},"y2":{"field":"hi"},"color":{"field":"c","type":"nominal","title":null,"scale":{"domain":["DNA","Rolling Circle","Penelope","LINE","SINE","LTR","Unclassified"],"range":["#E31F1A","#EF7E14","#7356A3","#0099D5","#990050","#00782D","#A2A5A8"]}}}},
{"width":108,"height":101,"view":{"fill":"#E4E4E4"},"transform":[{"filter":"datum.g=='U'&&datum.c=='Unclassified'"}],"mark":{"type":"rect","stroke":"#A2A5A8","strokeWidth":0.5},"encoding":{"x":{"field":"n","type":"quantitative","scale":{"type":"log","domain":[0.6322,15524],"range":[0,108],"nice":false},"axis":null},"x2":{"datum":1},"y":{"field":"lo","type":"quantitative","scale":{"domain":[-1087,16847],"range":[97,4],"nice":false,"zero":false},"axis":null},"y2":{"field":"hi"},"color":{"field":"c","type":"nominal","title":null,"scale":{"domain":["DNA","Rolling Circle","Penelope","LINE","SINE","LTR","Unclassified"],"range":["#E31F1A","#EF7E14","#7356A3","#0099D5","#990050","#00782D","#A2A5A8"]}}}},
{"width":317,"height":101,"view":{"fill":"#E4E4E4"},"data":{"values":[{"label":"UDP-glucuronosyltransferase"}]},"mark":{"type":"text","align":"left","baseline":"middle","fontSize":21.7,"fontWeight":"bold","font":"Liberation Sans","color":"black"},"encoding":{"text":{"field":"label"},"x":{"value":7.6},"y":{"value":49}}}
]},
{"spacing":0,"bounds":"flush","hconcat":[
{"width":176,"height":97,"transform":[{"filter":"datum.g=='A'&&datum.c=='DNA'"}],"mark":{"type":"rect","stroke":"#E31F1A","strokeWidth":0.5},"encoding":{"x":{"field":"n","type":"quantitative","scale":{"type":"log","domain":[0.622,21750],"range":[60,168],"nice":false},"axis":{"values":[1,10,100,1000,10000],"labelExpr":"datum.value>9999?'10⁴':datum.value>999?'10³':datum.value>99?'10²':format(datum.value,'d')","labelFlush":false,"labelOverlap":false,"tickSize":4,"labelPadding":0,"title":null}},"x2":{"datum":1},"y":{"field":"lo","type":"quantitative","scale":{"domain":[-1248,19348],"range":[97,4],"nice":false,"zero":false},"axis":{"orient":"left","offset":-60,"values":[0,5000,10000,15000],"format":"d","title":null}},"y2":{"field":"hi"},"color":{"field":"c","type":"nominal","title":null,"scale":{"domain":["DNA","Rolling Circle","Penelope","LINE","SINE","LTR","Unclassified"],"range":["#E31F1A","#EF7E14","#7356A3","#0099D5","#990050","#00782D","#A2A5A8"]}}}},
{"width":117,"height":97,"transform":[{"filter":"datum.g=='A'&&datum.c=='Rolling Circle'"}],"mark":{"type":"rect","stroke":"#EF7E14","strokeWidth":0.5},"encoding":{"x":{"field":"n","type":"quantitative","scale":{"type":"log","domain":[0.7203,1010],"range":[0,108],"nice":false},"axis":{"values":[1,10,100,1000],"labelExpr":"datum.value>9999?'10⁴':datum.value>999?'10³':datum.value>99?'10²':format(datum.value,'d')","labelFlush":false,"labelOverlap":false,"tickSize":4,"labelPadding":0,"title":null}},"x2":{"datum":1},"y":{"field":"lo","type":"quantitative","scale":{"domain":[-1248,19348],"range":[97,4],"nice":false,"zero":false},"axis":null},"y2":{"field":"hi"},"color":{"field":"c","type":"nominal","title":null,"scale":{"domain":["DNA","Rolling Circle","Penelope","LINE","SINE","LTR","Unclassified"],"range":["#E31F1A","#EF7E14","#7356A3","#0099D5","#990050","#00782D","#A2A5A8"]}}}},
{"width":116,"height":97,"transform":[{"filter":"datum.g=='A'&&datum.c=='Penelope'"}],"mark":{"type":"rect","stroke":"#7356A3","strokeWidth":0.5},"encoding":{"x":{"field":"n","type":"quantitative","scale":{"type":"log","domain":[0.8869,12.52],"range":[0,108],"nice":false},"axis":{"values":[1,10],"labelExpr":"format(datum.value,'d')","labelFlush":false,"labelOverlap":false,"tickSize":4,"labelPadding":0,"title":null}},"x2":{"datum":1},"y":{"field":"lo","type":"quantitative","scale":{"domain":[-1248,19348],"range":[97,4],"nice":false,"zero":false},"axis":null},"y2":{"field":"hi"},"color":{"field":"c","type":"nominal","title":null,"scale":{"domain":["DNA","Rolling Circle","Penelope","LINE","SINE","LTR","Unclassified"],"range":["#E31F1A","#EF7E14","#7356A3","#0099D5","#990050","#00782D","#A2A5A8"]}}}},
{"width":117,"height":97,"transform":[{"filter":"datum.g=='A'&&datum.c=='LINE'"}],"mark":{"type":"rect","stroke":"#0099D5","strokeWidth":0.5},"encoding":{"x":{"field":"n","type":"quantitative","scale":{"type":"log","domain":[0.7091,1379],"range":[0,108],"nice":false},"axis":{"values":[1,10,100,1000],"labelExpr":"datum.value>9999?'10⁴':datum.value>999?'10³':datum.value>99?'10²':format(datum.value,'d')","labelFlush":false,"labelOverlap":false,"tickSize":4,"labelPadding":0,"title":"TE Count","titleX":35,"titleY":40,"titleBaseline":"alphabetic","titleAlign":"center"}},"x2":{"datum":1},"y":{"field":"lo","type":"quantitative","scale":{"domain":[-1248,19348],"range":[97,4],"nice":false,"zero":false},"axis":null},"y2":{"field":"hi"},"color":{"field":"c","type":"nominal","title":null,"scale":{"domain":["DNA","Rolling Circle","Penelope","LINE","SINE","LTR","Unclassified"],"range":["#E31F1A","#EF7E14","#7356A3","#0099D5","#990050","#00782D","#A2A5A8"]}}}},
{"width":116,"height":97,"transform":[{"filter":"datum.g=='A'&&datum.c=='SINE'"}],"mark":{"type":"rect","stroke":"#990050","strokeWidth":0.5},"encoding":{"x":{"field":"n","type":"quantitative","scale":{"type":"log","domain":[0.9229,5.424],"range":[0,108],"nice":false},"axis":{"values":[1,5],"labelExpr":"format(datum.value,'d')","labelFlush":false,"labelOverlap":false,"tickSize":4,"labelPadding":0,"title":null}},"x2":{"datum":1},"y":{"field":"lo","type":"quantitative","scale":{"domain":[-1248,19348],"range":[97,4],"nice":false,"zero":false},"axis":null},"y2":{"field":"hi"},"color":{"field":"c","type":"nominal","title":null,"scale":{"domain":["DNA","Rolling Circle","Penelope","LINE","SINE","LTR","Unclassified"],"range":["#E31F1A","#EF7E14","#7356A3","#0099D5","#990050","#00782D","#A2A5A8"]}}}},
{"width":117,"height":97,"transform":[{"filter":"datum.g=='A'&&datum.c=='LTR'"}],"mark":{"type":"rect","stroke":"#00782D","strokeWidth":0.5},"encoding":{"x":{"field":"n","type":"quantitative","scale":{"type":"log","domain":[0.7764,204.9],"range":[0,108],"nice":false},"axis":{"values":[1,10,100],"labelExpr":"datum.value>99?'10²':format(datum.value,'d')","labelFlush":false,"labelOverlap":false,"tickSize":4,"labelPadding":0,"title":null}},"x2":{"datum":1},"y":{"field":"lo","type":"quantitative","scale":{"domain":[-1248,19348],"range":[97,4],"nice":false,"zero":false},"axis":null},"y2":{"field":"hi"},"color":{"field":"c","type":"nominal","title":null,"scale":{"domain":["DNA","Rolling Circle","Penelope","LINE","SINE","LTR","Unclassified"],"range":["#E31F1A","#EF7E14","#7356A3","#0099D5","#990050","#00782D","#A2A5A8"]}}}},
{"width":108,"height":97,"transform":[{"filter":"datum.g=='A'&&datum.c=='Unclassified'"}],"mark":{"type":"rect","stroke":"#A2A5A8","strokeWidth":0.5},"encoding":{"x":{"field":"n","type":"quantitative","scale":{"type":"log","domain":[0.6322,15524],"range":[0,108],"nice":false},"axis":{"values":[1,10,100,1000,10000],"labelExpr":"datum.value>9999?'10⁴':datum.value>999?'10³':datum.value>99?'10²':format(datum.value,'d')","labelFlush":false,"labelOverlap":false,"tickSize":4,"labelPadding":0,"title":null}},"x2":{"datum":1},"y":{"field":"lo","type":"quantitative","scale":{"domain":[-1248,19348],"range":[97,4],"nice":false,"zero":false},"axis":null},"y2":{"field":"hi"},"color":{"field":"c","type":"nominal","title":null,"scale":{"domain":["DNA","Rolling Circle","Penelope","LINE","SINE","LTR","Unclassified"],"range":["#E31F1A","#EF7E14","#7356A3","#0099D5","#990050","#00782D","#A2A5A8"]}}}},
{"width":317,"height":97,"data":{"values":[{"label":"ABC Transporters"}]},"mark":{"type":"text","align":"left","baseline":"middle","fontSize":21.7,"fontWeight":"bold","font":"Liberation Sans","color":"black"},"encoding":{"text":{"field":"label"},"x":{"value":7.6},"y":{"value":50}}}
]}
]}
]
}
